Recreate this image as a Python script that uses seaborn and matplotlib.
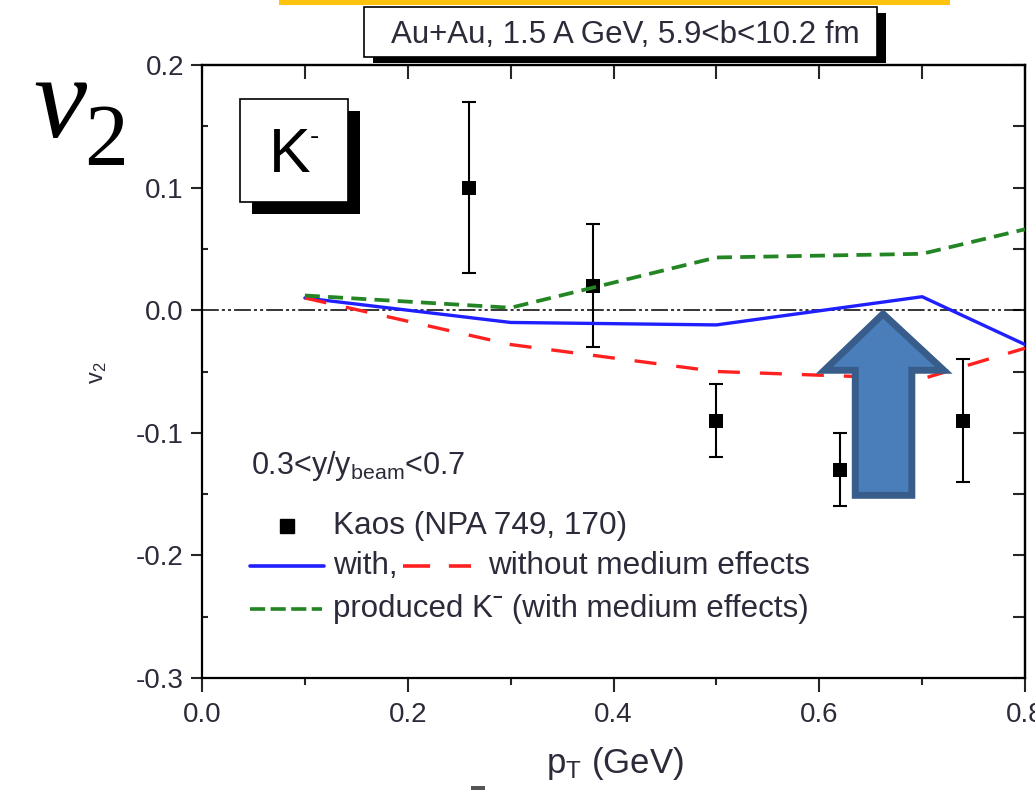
import numpy as np
import pandas as pd
import matplotlib
matplotlib.use("Agg")
import matplotlib.pyplot as plt
import seaborn as sns
from matplotlib.patches import Rectangle, Polygon
from matplotlib.lines import Line2D
from matplotlib.ticker import MultipleLocator

# Kaos data (NPA 749, 170)
pt_kaos = [0.26, 0.38, 0.50, 0.62, 0.74]
v2_kaos = [0.10, 0.02, -0.09, -0.13, -0.09]
v2_kaos_err = [0.07, 0.05, 0.03, 0.03, 0.05]

# transport calculations
pt_model = [0.1, 0.3, 0.5, 0.7, 0.8]
v2_with = [0.010, -0.010, -0.012, 0.011, -0.028]
v2_without = [0.010, -0.028, -0.050, -0.056, -0.031]
v2_produced = [0.012, 0.002, 0.043, 0.046, 0.066]

x_ticks = [0.0, 0.2, 0.4, 0.6, 0.8]
y_ticks = [-0.3, -0.2, -0.1, 0.0, 0.1, 0.2]
x_minor_step = 0.1
y_minor_step = 0.05

sns.set_theme(style="ticks")
plt.rcParams["font.family"] = ["Liberation Sans", "DejaVu Sans"]
plt.rcParams["axes.unicode_minus"] = False
plt.rcParams["mathtext.fontset"] = "custom"
plt.rcParams["mathtext.rm"] = "Liberation Sans"
plt.rcParams["mathtext.it"] = "Liberation Sans:italic"

TXT = "#2b2b3a"
W, H = 1035, 790
fig = plt.figure(figsize=(W / 100, H / 100), dpi=100)
fig.patch.set_facecolor("white")


def fx(px):
    return px / W


def fy(py):
    return 1 - py / H


ax = fig.add_axes([fx(202), fy(678), fx(1025) - fx(202), fy(65) - fy(678)])
ax.set_facecolor("white")
ax.set_xlim(0, 0.8)
ax.set_ylim(-0.3, 0.2)

# zero reference line (dash-dot-dot)
ax.axhline(0, color="black", lw=1.1, linestyle=(0, (11, 2, 2, 2, 2, 2)), zorder=2)

# measured points
ax.errorbar(pt_kaos, v2_kaos, yerr=v2_kaos_err, fmt="none", ecolor="black",
            elinewidth=1.5, capsize=5, capthick=1.5, zorder=3)
sns.scatterplot(x=pt_kaos, y=v2_kaos, marker="s", s=95, color="black",
                edgecolor="black", linewidth=0, ax=ax, zorder=4, legend=False)

# model curves
sns.lineplot(x=pt_model, y=v2_with, ax=ax, color="#1f1fff", lw=2.4,
             sort=False, estimator=None, zorder=5)
sns.lineplot(x=pt_model, y=v2_without, ax=ax, color="#ff2020", lw=2.4,
             linestyle=(0, (6.6, 6.0)), sort=False, estimator=None, zorder=5)
sns.lineplot(x=pt_model, y=v2_produced, ax=ax, color="#238523", lw=2.7,
             linestyle=(0, (4.0, 2.2)), sort=False, estimator=None, zorder=6)

# axes styling
for s in ax.spines.values():
    s.set_linewidth(1.6)
    s.set_color("black")
ax.set_xticks(x_ticks)
ax.set_xticklabels([f"{v:.1f}" for v in x_ticks])
ax.set_yticks(y_ticks)
ax.set_yticklabels([f"{v:.1f}" for v in y_ticks])
ax.xaxis.set_minor_locator(MultipleLocator(x_minor_step))
ax.yaxis.set_minor_locator(MultipleLocator(y_minor_step))
ax.tick_params(axis="x", which="major", direction="out", length=10, width=1.5,
               pad=7, labelsize=20, labelcolor=TXT)
ax.tick_params(axis="x", which="minor", direction="out", length=5, width=1.5)
ax.tick_params(axis="y", which="major", direction="out", length=8, width=1.5,
               pad=5, labelsize=20, labelcolor=TXT)
ax.tick_params(axis="y", which="minor", direction="in", length=4, width=1.5)
ax.set_xlabel("")
ax.set_ylabel("")

top = ax.secondary_xaxis("top")
top.set_xticks(np.arange(0, 0.81, x_minor_step))
top.tick_params(direction="in", length=10, width=1.5, labeltop=False)
top.spines["top"].set_linewidth(1.6)
right = ax.secondary_yaxis("right")
right.set_yticks(np.arange(-0.3, 0.201, y_minor_step))
right.tick_params(direction="in", length=9, width=1.5, labelright=False)
right.spines["right"].set_linewidth(1.6)

# axis titles
fig.text(fx(615), fy(764), r"p$_\mathregular{T}$ (GeV)", fontsize=25,
         color=TXT, ha="center", va="center")
fig.text(fx(98), fy(373), r"v$_\mathregular{2}$", fontsize=17, color=TXT,
         rotation=90, ha="center", va="center")

# big v2 symbol
fig.text(fx(33), fy(137), "v", fontsize=86, family="Liberation Serif",
         style="italic", color="black", ha="left", va="baseline")
fig.text(fx(84), fy(165), "2", fontsize=63, family="Liberation Serif",
         color="black", ha="left", va="baseline")

# highlight bar at the very top
fig.patches.append(Rectangle((fx(279), fy(5)), fx(950) - fx(279), fy(0) - fy(5),
                             transform=fig.transFigure, facecolor="#FFC20F",
                             edgecolor="none", zorder=1))


def shadow_box(x0, y0, x1, y1, dx, dy):
    fig.patches.append(Rectangle((fx(x0 + dx), fy(y1 + dy)), fx(x1) - fx(x0),
                                 fy(y0) - fy(y1), transform=fig.transFigure,
                                 facecolor="black", edgecolor="none", zorder=8))
    fig.patches.append(Rectangle((fx(x0), fy(y1)), fx(x1) - fx(x0),
                                 fy(y0) - fy(y1), transform=fig.transFigure,
                                 facecolor="white", edgecolor="black",
                                 linewidth=1.2, zorder=9))


# reaction label
shadow_box(364, 7, 877, 57, 9, 6)
fig.text(fx(625), fy(35), "Au+Au, 1.5 A GeV, 5.9<b<10.2 fm", fontsize=22.5,
         color=TXT, ha="center", va="center", zorder=10)

# particle label
shadow_box(240, 99, 348, 202, 12, 12)
fig.text(fx(290), fy(156), "K", fontsize=45, color="black", ha="center",
         va="center", zorder=10)
fig.text(fx(314), fy(137), "-", fontsize=20, color="black", ha="center",
         va="center", zorder=10)

# legend block
fig.text(fx(251), fy(466), r"0.3<y/y$_\mathregular{beam}$<0.7", fontsize=22,
         color=TXT, ha="left", va="center")
fig.lines.append(Line2D([fx(287)], [fy(526)], marker="s", markersize=10,
                        color="black", linestyle="none",
                        transform=fig.transFigure))
fig.text(fx(333), fy(526), "Kaos (NPA 749, 170)", fontsize=22.7, color=TXT,
         ha="left", va="center")
fig.lines.append(Line2D([fx(250), fx(324)], [fy(566), fy(566)], color="#1f1fff",
                        lw=2.6, transform=fig.transFigure))
fig.text(fx(333), fy(566), "with,", fontsize=22.7, color=TXT, ha="left",
         va="center")
fig.lines.append(Line2D([fx(403), fx(471)], [fy(566), fy(566)], color="#ff2020",
                        lw=2.6, linestyle=(0, (7.5, 5.2)),
                        transform=fig.transFigure))
fig.text(fx(488), fy(566), "without medium effects", fontsize=22.7, color=TXT,
         ha="left", va="center")
fig.lines.append(Line2D([fx(250), fx(322)], [fy(609), fy(609)], color="#238523",
                        lw=2.6, linestyle=(0, (4.2, 1.5)),
                        transform=fig.transFigure))
fig.text(fx(333), fy(609), "produced K\u02c9 (with medium effects)",
         fontsize=22.5, color=TXT, ha="left", va="center")

# block arrow pointing at the crossing region
arrow_pts = [(0.662, -0.003), (0.721, -0.049), (0.690, -0.049), (0.690, -0.151),
             (0.635, -0.151), (0.635, -0.049), (0.605, -0.049)]
ax.add_patch(Polygon(arrow_pts, closed=True, facecolor="#4A7EBB",
                     edgecolor="#385D8A", linewidth=5, joinstyle="miter",
                     zorder=12, clip_on=False))

# small mark at the bottom edge
fig.patches.append(Rectangle((fx(471), fy(790)), fx(485) - fx(471), fy(786) - fy(790),
                             transform=fig.transFigure, facecolor="#555555",
                             edgecolor="none"))

fig.savefig("out.png", dpi=100, facecolor="white")
